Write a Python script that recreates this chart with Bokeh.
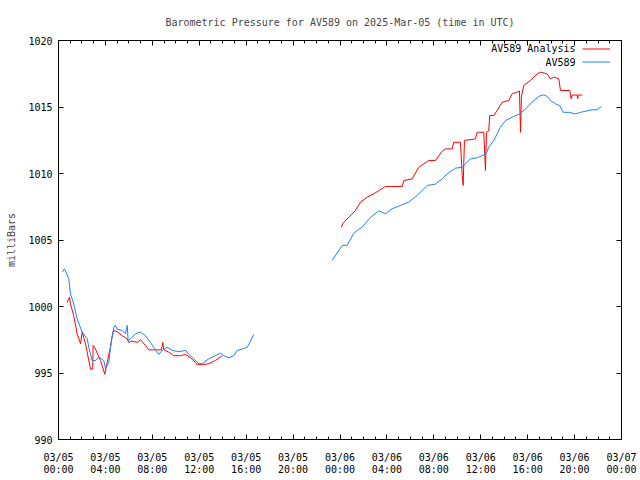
import pandas as pd
from bokeh.plotting import figure
from bokeh.models import (DatetimeAxis, LinearAxis, FixedTicker, DatetimeTickFormatter,
                          CustomJSTickFormatter, Range1d, Legend, LegendItem, Label)
from bokeh.embed import file_html
from bokeh.resources import INLINE

TITLE = "Barometric Pressure for AV589 on 2025-Mar-05 (time in UTC)"
Y_LABEL = "milliBars"
START = "2025-03-05 00:00"
END = "2025-03-07 00:00"
Y_TICKS = [990, 995, 1000, 1005, 1010, 1015, 1020]
X_MAJOR_HOURS = list(range(0, 49, 4))
X_MINOR_HOURS = list(range(0, 49, 1))
SERIES_NAMES = ["AV589 Analysis", "AV589"]
COLORS = ["#ff0000", "#1a80ff"]

# AV589 Analysis (hours since 2025-03-05 00:00 UTC, mb); nan = data gap
analysis_hours = [0.74, 0.94, 1.02, 1.30, 1.59, 1.88, 2.02, 2.30, 2.73, 2.92, 2.95, 3.15, 3.58,
                  3.95, 4.15, 4.43, 4.58, 4.71, 5.00, 5.43, 5.86, 5.99, 6.28, 6.71, 6.99, 7.42,
                  7.70, 8.27, 8.78, 8.89, 8.98, 9.40, 9.83, 10.40, 10.83, 11.25, 11.68, 11.82,
                  11.96, 12.25, 12.81, 13.38, 13.96,
                  19.0,
                  24.10, 24.27, 24.75, 25.32, 25.75, 26.32, 26.88, 27.31, 27.88, 29.30, 29.44,
                  30.15, 30.72, 31.57, 32.14, 32.71, 32.99, 33.56, 33.70, 34.27, 34.42, 34.50,
                  34.61, 35.55, 35.69, 36.26, 36.40, 36.49, 36.68, 36.77, 37.11, 37.40, 37.83,
                  38.39, 38.68, 39.11, 39.30, 39.39, 39.47, 39.67, 40.24, 40.81, 41.09, 41.66,
                  41.94, 42.22, 42.65, 42.80, 43.59, 43.71, 43.80, 44.22, 44.27, 44.31, 44.65]
analysis_mb = [1000.3, 1000.7, 1000.2, 999.3, 997.95, 997.2, 998.07, 997.2, 995.3, 995.3, 997.07,
               996.8, 995.94, 994.9, 995.8, 996.94, 997.8, 998.2, 998.1, 997.8, 997.57, 997.3,
               997.4, 997.3, 997.5, 997.07, 996.74, 996.74, 996.74, 997.3, 996.74, 996.57, 996.3,
               996.3, 996.4, 996.14, 995.8, 995.6, 995.65, 995.62, 995.7, 995.94, 996.3,
               float("nan"),
               1005.97, 1006.27, 1006.72, 1007.22, 1007.85, 1008.22, 1008.47, 1008.72, 1009.02,
               1009.02, 1009.47, 1009.6, 1010.47, 1010.98, 1010.98, 1011.68, 1011.85, 1011.85,
               1012.35, 1012.35, 1009.85, 1009.1, 1012.48, 1012.6, 1013.1, 1013.1, 1010.23,
               1013.1, 1013.2, 1014.36, 1014.36, 1014.74, 1015.36, 1015.49, 1016.0, 1016.12,
               1016.2, 1013.1, 1015.8, 1016.62, 1017.0, 1017.49, 1017.62, 1017.49, 1017.12,
               1017.25, 1017.12, 1016.24, 1016.24, 1015.62, 1015.9, 1015.9, 1015.62, 1015.9,
               1015.9]

# AV589 observations
obs_hours = [0.32, 0.51, 0.88, 1.02, 1.30, 1.59, 2.02, 2.45, 2.58, 2.87, 3.15, 3.44, 3.86, 4.01,
             4.29, 4.43, 4.71, 4.86, 5.00, 5.43, 5.71, 5.86, 5.94, 6.28, 6.56, 6.99, 7.42, 7.84,
             8.27, 8.55, 8.84, 9.27, 9.69, 10.26, 10.83, 11.11, 11.53, 11.96, 12.25, 12.81,
             13.38, 13.81, 14.09, 14.52, 14.94, 15.23, 15.66, 16.09, 16.37, 16.65,
             20.0,
             23.33, 24.19, 24.61, 25.17, 25.60, 25.89, 26.60, 27.31, 27.88, 28.45, 29.16, 29.86,
             30.58, 31.43, 32.14, 32.71, 33.14, 33.84, 34.42, 35.12, 35.69, 36.46, 36.68, 37.11,
             37.68, 38.11, 38.68, 39.33, 39.81, 40.38, 40.95, 41.37, 41.66, 41.94, 42.37, 42.74,
             43.03, 43.50, 44.08, 44.50, 44.93, 45.50, 45.92, 46.29]
obs_mb = [1002.58, 1002.83, 1002.08, 1000.95, 1000.2, 999.07, 998.07, 997.57, 996.94, 995.94,
          995.94, 996.19, 995.94, 995.31, 995.81, 996.94, 998.44, 998.57, 998.3, 998.2, 997.95,
          998.57, 997.4, 997.7, 997.95, 998.07, 997.8, 997.3, 996.7, 996.4, 996.7, 996.94, 996.7,
          996.6, 996.7, 996.4, 996.07, 995.7, 995.7, 996.07, 996.3, 996.5, 996.3, 996.14, 996.3,
          996.7, 996.8, 996.94, 997.4, 997.9,
          float("nan"),
          1003.46, 1004.6, 1004.6, 1005.5, 1005.8, 1005.97, 1006.7, 1007.2, 1006.97, 1007.35,
          1007.6, 1007.85, 1008.35, 1009.1, 1009.2, 1009.6, 1009.98, 1010.4, 1010.47, 1011.1,
          1011.18, 1011.48, 1011.98, 1012.48, 1013.48, 1013.98, 1014.23, 1014.48, 1014.86,
          1015.36, 1015.8, 1015.92, 1015.8, 1015.5, 1015.24, 1015.1, 1014.6, 1014.6, 1014.48,
          1014.6, 1014.68, 1014.79, 1014.79, 1015.04]

FONT = "DejaVu Sans Mono"
FS = "10px"

t0 = pd.Timestamp(START)


def to_time(hours):
    return [t0 + pd.Timedelta(hours=h) for h in hours]


def to_ms(hours):
    return [(t0 + pd.Timedelta(hours=h)).value / 1e6 for h in hours]


p = figure(width=640, height=480, x_axis_type="datetime",
           x_range=Range1d(t0, pd.Timestamp(END)), y_range=Range1d(990, 1020),
           output_backend="svg", toolbar_location=None,
           min_border_left=58, min_border_right=19, min_border_top=40, min_border_bottom=41)
p.grid.visible = False
p.outline_line_color = "black"
p.outline_line_width = 1
p.background_fill_color = "white"
p.border_fill_color = "white"

p.title.text = TITLE
p.title.align = "center"
p.title.text_font = FONT
p.title.text_font_size = FS
p.title.text_font_style = "normal"
p.title.standoff = 25

fmt = "%m/%d\n%H:%M"
dt_fmt = DatetimeTickFormatter(microseconds=fmt, milliseconds=fmt, seconds=fmt, minsec=fmt,
                               minutes=fmt, hourmin=fmt, hours=fmt, days=fmt, months=fmt,
                               years=fmt)
blank_fmt = CustomJSTickFormatter(code="return ''")
xticker = FixedTicker(ticks=to_ms(X_MAJOR_HOURS), minor_ticks=to_ms(X_MINOR_HOURS))
yticker = FixedTicker(ticks=Y_TICKS)

bottom = p.below[0]
left = p.left[0]
top = DatetimeAxis()
right = LinearAxis()
p.add_layout(top, "above")
p.add_layout(right, "right")

for ax in (bottom, top):
    ax.ticker = xticker
for ax in (left, right):
    ax.ticker = yticker
bottom.formatter = dt_fmt

for ax in (bottom, top, left, right):
    ax.major_tick_in = 5
    ax.major_tick_out = 0
    ax.minor_tick_in = 3
    ax.minor_tick_out = 0
    ax.axis_line_color = "black"
    ax.major_tick_line_color = "black"
    ax.minor_tick_line_color = "black"
    ax.major_label_text_font = FONT
    ax.major_label_text_font_size = FS
    ax.major_label_text_color = "black"
    ax.axis_label_text_font = FONT
    ax.axis_label_text_font_size = FS
    ax.axis_label_text_font_style = "normal"

for ax in (top, right):
    ax.formatter = blank_fmt
    ax.major_label_text_color = None
    ax.major_label_standoff = 0

bottom.major_label_standoff = 12
bottom.major_label_text_line_height = 1.1
left.major_label_standoff = 6
left.axis_label = Y_LABEL
left.axis_label_standoff = 8

r_an = p.line(to_time(analysis_hours), analysis_mb, line_color=COLORS[0], line_width=1)
r_ob = p.line(to_time(obs_hours), obs_mb, line_color=COLORS[1], line_width=1)

legend = Legend(items=[LegendItem(label=" ", renderers=[r_an]),
                       LegendItem(label=" ", renderers=[r_ob])],
                location="top_right", padding=0, margin=2, spacing=0, label_standoff=0,
                label_width=9, label_height=13, glyph_width=28, glyph_height=13,
                border_line_color=None, background_fill_alpha=0,
                label_text_font=FONT, label_text_font_size=FS)
p.add_layout(legend, "center")

for i, name in enumerate(SERIES_NAMES):
    p.add_layout(Label(x=517, y=391 - 14 * i, x_units="screen", y_units="screen", text=name,
                       text_align="right", text_baseline="middle", text_font=FONT,
                       text_font_size=FS, text_color="black"))

open("out.html", "w").write(file_html(p, INLINE))
